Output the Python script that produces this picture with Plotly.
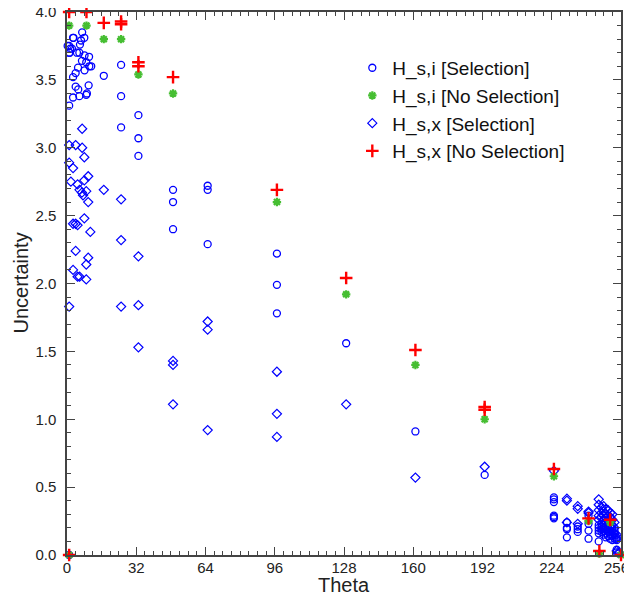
import plotly.graph_objects as go

# H_s,i [Selection]  (open circles)
hsi_sel_theta = [7, 3, 8, 6.5, 1, 6, 2.3, 4.6, 1, 5.7, 8.1, 10.2, 6.9, 8.9, 10.3, 11.2, 5.1, 8.1, 4, 2.8,
                 17, 25, 4, 5.2, 10, 2.8, 5.7, 8.9, 9.2, 25, 1, 0.3, 1.5, 1.2, 2.8,
                 33, 25, 33, 33, 49, 49, 49, 65, 65, 65, 97, 97, 97, 129, 161, 193,
                 225, 225, 225, 225, 225, 225, 231, 231, 231, 231, 236, 236, 236, 241, 241, 241, 241,
                 245.7, 245.7, 245.7, 245.7, 245.7, 247, 247, 247, 247, 248, 248, 248, 248, 248,
                 249, 249, 249, 249, 249, 250, 250, 250, 250, 251, 251, 251, 251, 251,
                 252, 252, 252, 252, 253, 253, 253, 254, 254, 254, 254, 255, 1]
hsi_sel_u = [3.85, 3.81, 3.81, 3.79, 3.75, 3.76, 3.73, 3.70, 3.70, 3.70, 3.68, 3.67, 3.64, 3.63, 3.60, 3.60, 3.59, 3.57, 3.55, 3.52,
             3.53, 3.61, 3.45, 3.43, 3.46, 3.37, 3.38, 3.39, 3.40, 3.38, 3.31, 3.75, 3.73, 3.70, 3.81,
             3.24, 3.15, 3.07, 2.94, 2.69, 2.60, 2.40, 2.72, 2.69, 2.29, 2.22, 1.99, 1.78, 1.56, 0.91, 0.59,
             0.425, 0.41, 0.39, 0.29, 0.28, 0.27, 0.24, 0.20, 0.19, 0.13, 0.21, 0.19, 0.17, 0.29, 0.23, 0.18, 0.12,
             0.22, 0.20, 0.18, 0.16, 0.10, 0.21, 0.19, 0.17, 0.23, 0.25, 0.22, 0.20, 0.18, 0.15,
             0.24, 0.21, 0.19, 0.16, 0.13, 0.22, 0.20, 0.17, 0.14, 0.25, 0.21, 0.18, 0.15, 0.12,
             0.20, 0.17, 0.14, 0.11, 0.18, 0.15, 0.12, 0.13, 0.11, 0.04, 0.02, 0.01, 0.0]

# H_s,x [Selection]  (open diamonds)
hsx_sel_theta = [7, 1, 4, 7, 8, 1, 2.8, 9.8, 8, 1.8, 4.9, 5.8, 8.9, 6.9, 7.4, 17, 9.8, 25, 8, 2.8, 4, 4.9,
                 10.8, 25, 4, 9.8, 8.9, 33, 2.8, 4.9, 5.8, 8.9, 1, 25, 33, 33, 49, 49, 49, 65, 65, 65,
                 97, 97, 97, 129, 161, 193,
                 225, 231, 231, 231, 236, 236, 236, 241, 241,
                 245.7, 245.7, 245.7, 245.7, 245.7, 247, 247, 247, 248, 248, 248, 248,
                 249, 249, 249, 249, 250, 250, 250, 251, 251, 251, 251, 252, 252, 252,
                 253, 253, 253, 254, 254, 254, 255]
hsx_sel_u = [3.14, 3.02, 3.02, 3.00, 2.93, 2.89, 2.85, 2.79, 2.76, 2.75, 2.73, 2.69, 2.68, 2.67, 2.65, 2.69, 2.60, 2.62, 2.48, 2.44, 2.44, 2.43,
             2.38, 2.32, 2.24, 2.19, 2.14, 2.20, 2.10, 2.05, 2.05, 2.03, 1.83, 1.83, 1.84, 1.53, 1.43, 1.40, 1.11, 1.72, 1.66, 0.92,
             1.35, 1.04, 0.87, 1.11, 0.57, 0.65,
             0.62, 0.415, 0.40, 0.24, 0.36, 0.34, 0.23, 0.32, 0.31,
             0.41, 0.37, 0.33, 0.29, 0.26, 0.35, 0.31, 0.28, 0.36, 0.32, 0.29, 0.26,
             0.34, 0.30, 0.27, 0.24, 0.33, 0.29, 0.25, 0.31, 0.28, 0.24, 0.21, 0.30, 0.26, 0.22,
             0.24, 0.20, 0.16, 0.15, 0.12, 0.03, 0.02]

# H_s,i [No Selection]  (green asterisks)
hsi_nosel_theta = [1, 9, 17, 25, 33, 49, 97, 129, 161, 193, 225, 241, 246, 251, 256, 1]
hsi_nosel_u = [3.90, 3.90, 3.80, 3.80, 3.54, 3.40, 2.60, 1.92, 1.40, 1.00, 0.58, 0.25, 0.01, 0.24, 0.0, 0.0]

# H_s,x [No Selection]  (red crosses)
hsx_nosel_theta = [1, 9, 17, 25, 25, 33, 33, 49, 97, 129, 161, 193, 193, 225, 241, 246, 251, 256, 1]
hsx_nosel_u = [4.00, 4.00, 3.92, 3.91, 3.93, 3.60, 3.63, 3.52, 2.69, 2.04, 1.51, 1.07, 1.09, 0.634, 0.27, 0.03, 0.26, 0.0, 0.0]

x_ticks = [0, 32, 64, 96, 128, 160, 192, 224, 256]
x_ticktext = ["0", "32", "64", "96", "128", "160", "192", "224", ""]   # last label drawn as annotation
x_last_label = "256"
y_ticks = [0, 0.5, 1, 1.5, 2, 2.5, 3, 3.5, 4]
y_ticktext = ["0.0", "0.5", "1.0", "1.5", "2.0", "2.5", "3.0", "3.5", "4.0"]

BLUE = "rgb(0,0,255)"
GREEN = "rgb(70,190,50)"
RED = "rgb(255,0,0)"
FONT = "Liberation Sans, Arial, sans-serif"

fig = go.Figure()
fig.add_trace(go.Scatter(x=hsi_sel_theta, y=hsi_sel_u, mode="markers", name="H_s,i [Selection]",
                         legendrank=1, cliponaxis=False,
                         marker=dict(symbol="circle-open", size=7, color=BLUE, line=dict(width=1.3, color=BLUE))))
fig.add_trace(go.Scatter(x=hsx_sel_theta, y=hsx_sel_u, mode="markers", name="H_s,x [Selection]",
                         legendrank=3, cliponaxis=False,
                         marker=dict(symbol="diamond-open", size=7, color=BLUE, line=dict(width=1.2, color=BLUE))))
fig.add_trace(go.Scatter(x=hsi_nosel_theta, y=hsi_nosel_u, mode="markers", name="H_s,i [No Selection]",
                         legendrank=2, cliponaxis=False,
                         marker=dict(symbol="asterisk-open", size=7, color=GREEN, line=dict(width=2.2, color=GREEN))))
fig.add_trace(go.Scatter(x=hsx_nosel_theta, y=hsx_nosel_u, mode="markers", name="H_s,x [No Selection]",
                         legendrank=4, cliponaxis=False,
                         marker=dict(symbol="cross-thin-open", size=9, color=RED, line=dict(width=2.4, color=RED))))

axis_common = dict(showgrid=False, zeroline=False, showline=True, linecolor="#444", linewidth=1.5,
                   ticks="inside", tickcolor="#444", tickwidth=1.3, mirror="ticks", automargin=False,
                   ticklabeloverflow="allow",
                   tickfont=dict(family=FONT, size=15, color="#222"))

fig.update_xaxes(range=[0, 256], tickmode="array", tickvals=x_ticks, ticktext=x_ticktext,
                 ticklen=8, minor=dict(dtick=4, ticklen=4, ticks="inside", tickcolor="#444", tickwidth=1.2),
                 **axis_common)
fig.update_yaxes(range=[0, 4], tickmode="array", tickvals=y_ticks, ticktext=y_ticktext,
                 ticklen=8, minor=dict(dtick=0.1, ticklen=4, ticks="inside", tickcolor="#444", tickwidth=1.2),
                 **axis_common)
try:
    fig.update_yaxes(ticklabelstandoff=6)
except Exception:
    pass
try:
    fig.update_xaxes(ticklabelstandoff=-2)
except Exception:
    pass

fig.add_annotation(text=x_last_label, xref="x", yref="paper", x=x_ticks[-1], y=0,
                   xanchor="right", yanchor="middle", xshift=10, yshift=-12, showarrow=False,
                   font=dict(family=FONT, size=15, color="#222"))
fig.add_annotation(text="Theta", xref="paper", yref="paper", x=0.5, y=0, xanchor="center", yanchor="middle",
                   yshift=-30, showarrow=False, font=dict(family=FONT, size=20, color="#222"))
fig.add_annotation(text="Uncertainty", xref="paper", yref="paper", x=0, y=0.5, xanchor="center", yanchor="middle",
                   xshift=-47, textangle=-90, showarrow=False, font=dict(family=FONT, size=20, color="#222"))

fig.update_layout(
    width=624, height=587,
    margin=dict(l=59, r=11, t=4, b=40),
    plot_bgcolor="white", paper_bgcolor="white",
    legend=dict(x=0.515, y=0.932, xanchor="left", yanchor="top", bgcolor="rgba(0,0,0,0)",
                font=dict(family=FONT, size=19, color="#111"), itemwidth=30),
)

fig.write_html("out.html",
               post_script="document.documentElement.style.overflow='hidden';document.body.style.overflow='hidden';")
